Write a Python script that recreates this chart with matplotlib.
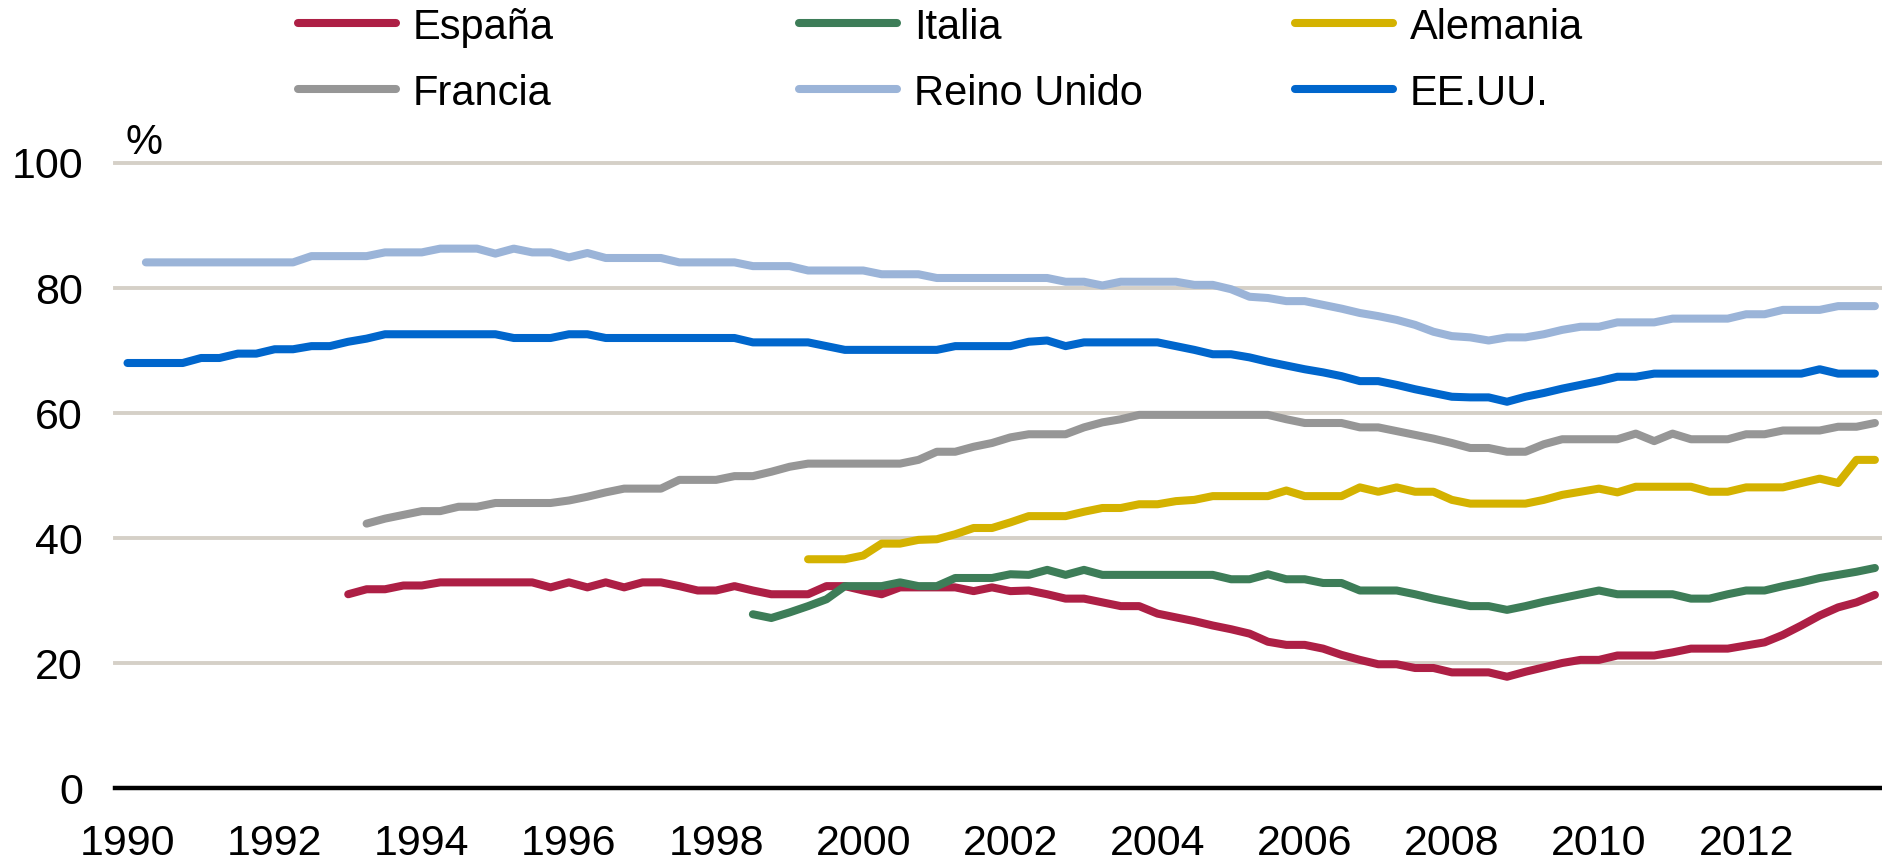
import numpy as np
import matplotlib
matplotlib.use('Agg')
import matplotlib.pyplot as plt
from matplotlib.lines import Line2D

plt.rcParams['font.family'] = ['Liberation Sans', 'DejaVu Sans']

# quarterly series, first quarter given as decimal year
series_names = ['España', 'Italia', 'Alemania', 'Francia', 'Reino Unido', 'EE.UU.']
series_colors = ['#AD1F45', '#3D7D58', '#D4B200', '#969696', '#9BB4D8', '#0066CC']
series_start = [1993.0, 1998.5, 1999.25, 1993.25, 1990.25, 1990.0]

espana = [31.0, 31.8, 31.8, 32.4, 32.4, 32.9, 32.9, 32.9, 32.9, 32.9, 32.9,
          32.1, 32.9, 32.1, 32.9, 32.1, 32.9, 32.9, 32.3, 31.6, 31.6, 32.3,
          31.6, 31.0, 31.0, 31.0, 32.3, 32.3, 31.6, 31.0, 32.1, 32.1, 32.1,
          32.1, 31.5, 32.1, 31.5, 31.6, 31.0, 30.3, 30.3, 29.7, 29.1, 29.1,
          27.9, 27.3, 26.7, 26.0, 25.4, 24.7, 23.4, 22.9, 22.9, 22.3, 21.3,
          20.5, 19.8, 19.8, 19.2, 19.2, 18.5, 18.5, 18.5, 17.8, 18.6, 19.3,
          20.0, 20.5, 20.5, 21.2, 21.2, 21.2, 21.7, 22.3, 22.3, 22.3, 22.8,
          23.3, 24.5, 26.0, 27.6, 28.9, 29.7, 30.9]
italia = [27.8, 27.2, 28.1, 29.1, 30.2, 32.3, 32.3, 32.3, 32.9, 32.3, 32.3,
          33.6, 33.6, 33.6, 34.2, 34.1, 34.9, 34.1, 34.9, 34.1, 34.1, 34.1,
          34.1, 34.1, 34.1, 34.1, 33.4, 33.4, 34.2, 33.4, 33.4, 32.8, 32.8,
          31.6, 31.6, 31.6, 31.0, 30.3, 29.7, 29.1, 29.1, 28.5, 29.1, 29.8,
          30.4, 31.0, 31.6, 31.0, 31.0, 31.0, 31.0, 30.3, 30.3, 31.0, 31.6,
          31.6, 32.3, 32.9, 33.6, 34.1, 34.6, 35.2]
alemania = [36.6, 36.6, 36.6, 37.2, 39.1, 39.1, 39.7, 39.8, 40.6, 41.6, 41.6,
            42.5, 43.5, 43.5, 43.5, 44.2, 44.8, 44.8, 45.4, 45.4, 45.9, 46.1,
            46.7, 46.7, 46.7, 46.7, 47.6, 46.7, 46.7, 46.7, 48.1, 47.4, 48.1,
            47.4, 47.4, 46.1, 45.5, 45.5, 45.5, 45.5, 46.1, 46.9, 47.4, 47.9,
            47.3, 48.2, 48.2, 48.2, 48.2, 47.4, 47.4, 48.1, 48.1, 48.1, 48.8,
            49.5, 48.8, 52.5, 52.5]
francia = [42.3, 43.1, 43.7, 44.3, 44.3, 45.0, 45.0, 45.6, 45.6, 45.6, 45.6,
           46.0, 46.6, 47.3, 47.9, 47.9, 47.9, 49.3, 49.3, 49.3, 49.9, 49.9,
           50.6, 51.4, 51.9, 51.9, 51.9, 51.9, 51.9, 51.9, 52.5, 53.8, 53.8,
           54.6, 55.2, 56.1, 56.6, 56.6, 56.6, 57.7, 58.5, 59.0, 59.7, 59.7,
           59.7, 59.7, 59.7, 59.7, 59.7, 59.7, 59.0, 58.4, 58.4, 58.4, 57.7,
           57.7, 57.1, 56.5, 55.9, 55.2, 54.4, 54.4, 53.8, 53.8, 55.0, 55.8,
           55.8, 55.8, 55.8, 56.7, 55.5, 56.7, 55.8, 55.8, 55.8, 56.6, 56.6,
           57.2, 57.2, 57.2, 57.8, 57.8, 58.4]
reino_unido = [84.1, 84.1, 84.1, 84.1, 84.1, 84.1, 84.1, 84.1, 84.1, 85.1,
               85.1, 85.1, 85.1, 85.7, 85.7, 85.7, 86.3, 86.3, 86.3, 85.5,
               86.3, 85.7, 85.7, 84.9, 85.6, 84.8, 84.8, 84.8, 84.8, 84.1,
               84.1, 84.1, 84.1, 83.5, 83.5, 83.5, 82.8, 82.8, 82.8, 82.8,
               82.2, 82.2, 82.2, 81.6, 81.6, 81.6, 81.6, 81.6, 81.6, 81.6,
               81.0, 81.0, 80.4, 81.0, 81.0, 81.0, 81.0, 80.5, 80.5, 79.8,
               78.6, 78.4, 77.9, 77.9, 77.3, 76.7, 76.0, 75.5, 74.9, 74.1,
               73.0, 72.3, 72.1, 71.6, 72.1, 72.1, 72.6, 73.3, 73.8, 73.8,
               74.5, 74.5, 74.5, 75.1, 75.1, 75.1, 75.1, 75.8, 75.8, 76.5,
               76.5, 76.5, 77.1, 77.1, 77.1]
eeuu = [68.0, 68.0, 68.0, 68.0, 68.8, 68.8, 69.5, 69.5, 70.2, 70.2, 70.7,
        70.7, 71.4, 71.9, 72.6, 72.6, 72.6, 72.6, 72.6, 72.6, 72.6, 72.0,
        72.0, 72.0, 72.6, 72.6, 72.0, 72.0, 72.0, 72.0, 72.0, 72.0, 72.0,
        72.0, 71.3, 71.3, 71.3, 71.3, 70.7, 70.1, 70.1, 70.1, 70.1, 70.1,
        70.1, 70.7, 70.7, 70.7, 70.7, 71.4, 71.6, 70.7, 71.3, 71.3, 71.3,
        71.3, 71.3, 70.7, 70.1, 69.4, 69.4, 68.9, 68.2, 67.6, 67.0, 66.5,
        65.9, 65.1, 65.1, 64.5, 63.8, 63.2, 62.6, 62.5, 62.5, 61.8, 62.6,
        63.2, 63.9, 64.5, 65.1, 65.8, 65.8, 66.3, 66.3, 66.3, 66.3, 66.3,
        66.3, 66.3, 66.3, 66.3, 67.0, 66.3, 66.3, 66.3]

series_values = [espana, italia, alemania, francia, reino_unido, eeuu]

x_ticks = list(range(1990, 2013, 2))
y_ticks = [0, 20, 40, 60, 80, 100]

W, H = 1883, 863
fig = plt.figure(figsize=(W / 100, H / 100), dpi=100)
ax = fig.add_axes([115 / W, 75 / H, (W - 115) / W, 625 / H])

for vals, start, col in zip(series_values, series_start, series_colors):
    x = start + np.arange(len(vals)) / 4.0
    ax.plot(x, vals, color=col, lw=5.8, solid_capstyle='round',
            solid_joinstyle='round', clip_on=False, zorder=3)

ax.set_xlim(1989.83, 2013.86)
ax.set_ylim(0, 100)

# gridlines and zero axis
for yv in y_ticks[1:]:
    ax.axhline(yv, color='#D5D0C7', lw=2.8, clip_on=False, zorder=1)
for side in ['top', 'right', 'left']:
    ax.spines[side].set_visible(False)
ax.spines['bottom'].set_color('black')
ax.spines['bottom'].set_linewidth(3.2)
ax.spines['bottom'].set_zorder(4)

ax.set_xticks(x_ticks)
ax.set_xticklabels([str(v) for v in x_ticks])
ax.set_yticks(y_ticks)
ax.set_yticklabels([str(v) for v in y_ticks])
ax.tick_params(axis='x', length=0, pad=26, labelsize=31)
ax.tick_params(axis='y', length=0, pad=23, labelsize=31)

fig.text(126 / W, (H - 154) / H, '%', fontsize=30, va='baseline', ha='left')

# legend drawn by hand: 3 columns, 2 rows
handle_x = [294, 795, 1291]
row_y = [23, 89]
row_base = [39, 105]
for k, (name, col) in enumerate(zip(series_names, series_colors)):
    r, c = divmod(k, 3)
    x0 = handle_x[c]
    fig.add_artist(Line2D([(x0 + 4) / W, (x0 + 102) / W],
                          [(H - row_y[r]) / H, (H - row_y[r]) / H],
                          transform=fig.transFigure, color=col, lw=5.8,
                          solid_capstyle='round'))
    fig.text((x0 + 119) / W, (H - row_base[r]) / H, name, fontsize=30,
             va='baseline', ha='left')

plt.savefig('out.png', dpi=100)
